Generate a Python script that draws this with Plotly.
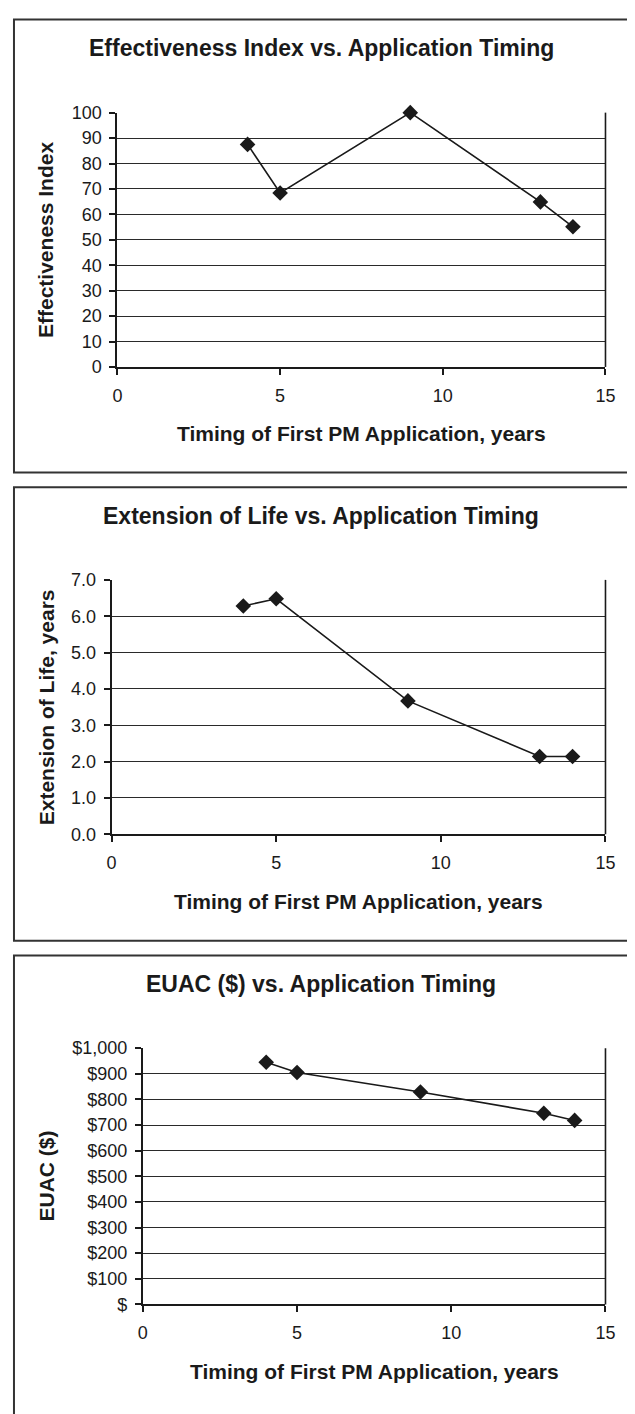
import plotly.graph_objects as go

# The page body has a default 8px margin, so the figure is drawn 8px in from the window edge.
OFF = 8
W, H = 635 - OFF, 1414 - OFF

timing = [4, 5, 9, 13, 14]
effectiveness = [87.5, 68.4, 100, 64.9, 55.1]
extension = [6.28, 6.48, 3.67, 2.14, 2.14]
euac = [945, 905, 829, 746, 718]

titles = ["Effectiveness Index vs. Application Timing",
          "Extension of Life vs. Application Timing",
          "EUAC ($) vs. Application Timing"]
ytitles = ["Effectiveness Index", "Extension of Life, years", "EUAC ($)"]
xtitle = "Timing of First PM Application, years"

x_ticks = [0, 5, 10, 15]
eff_ticks = list(range(0, 101, 10))
ext_ticks = [0, 1, 2, 3, 4, 5, 6, 7]
euac_ticks = list(range(0, 1001, 100))
euac_labels = ["$"] + ["${:,}".format(v) for v in euac_ticks[1:]]

FONT = "Liberation Sans, Arial, Helvetica, sans-serif"
INK = "#1a1a1a"

def px(x):
    return (x - OFF) / W

def py(y):
    return 1 - (y - OFF) / H

# panel layout in window pixels
panels = [
    dict(x0=115, x1=615, yt=104, yb=362, bt=9.5, bb=469, ty=38),
    dict(x0=109, x1=615, yt=578, yb=836, bt=484, bb=944, ty=513),
    dict(x0=141, x1=615, yt=1053, yb=1313, bt=959, bb=1440, ty=988),
]
XTITLE_GAP = 68

series = [effectiveness, extension, euac]

fig = go.Figure()
for i, (p, ys) in enumerate(zip(panels, series)):
    suf = "" if i == 0 else str(i + 1)
    fig.add_trace(go.Scatter(
        x=timing, y=ys, mode="lines+markers",
        xaxis="x" + suf, yaxis="y" + suf,
        line=dict(color=INK, width=1.6),
        marker=dict(symbol="diamond", size=12, color=INK),
        showlegend=False, cliponaxis=False,
    ))

axis_common = dict(
    showline=True, linecolor=INK, linewidth=2, mirror=False,
    ticks="outside", ticklen=6, tickwidth=1.5, tickcolor=INK,
    tickfont=dict(family=FONT, size=18, color=INK),
    zeroline=False,
)

yconf = [
    dict(range=[0, 100], tickvals=eff_ticks, ticktext=[str(v) for v in eff_ticks]),
    dict(range=[0, 7], tickvals=ext_ticks, ticktext=["{:.1f}".format(v) for v in ext_ticks]),
    dict(range=[0, 1000], tickvals=euac_ticks, ticktext=euac_labels),
]

layout = dict(
    width=W, height=H, margin=dict(l=0, r=0, t=0, b=0),
    paper_bgcolor="white", plot_bgcolor="white",
    shapes=[], annotations=[],
)

for i, p in enumerate(panels):
    suf = "" if i == 0 else str(i + 1)
    layout["xaxis" + suf] = dict(
        axis_common,
        domain=[px(p["x0"]), px(p["x1"])],
        range=[0, 15], tickvals=x_ticks, showgrid=False,
        anchor="y" + suf, ticklabelstandoff=5,
    )
    layout["yaxis" + suf] = dict(
        axis_common,
        domain=[py(p["yb"]), py(p["yt"])],
        showgrid=True, gridcolor="#2a2a2a", gridwidth=1.4,
        anchor="x" + suf, ticklabelstandoff=4,
        **yconf[i],
    )
    # plot area frame (right side)
    layout["shapes"].append(dict(
        type="line", xref="paper", yref="paper",
        x0=px(p["x1"]), x1=px(p["x1"]), y0=py(p["yb"]), y1=py(p["yt"]),
        line=dict(color=INK, width=1.6),
    ))
    # panel border box
    layout["shapes"].append(dict(
        type="rect", xref="paper", yref="paper",
        x0=px(9), x1=px(660), y0=py(p["bb"]), y1=py(p["bt"]),
        line=dict(color="#333333", width=2),
    ))
    layout["annotations"].append(dict(
        text="<b>" + titles[i] + "</b>", xref="paper", yref="paper",
        x=px(324), y=py(p["ty"]), xanchor="center", yanchor="middle",
        showarrow=False, font=dict(family=FONT, size=23, color=INK),
    ))
    layout["annotations"].append(dict(
        text="<b>" + xtitle + "</b>", xref="paper", yref="paper",
        x=px((p["x0"] + p["x1"]) / 2), y=py(p["yb"] + XTITLE_GAP),
        xanchor="center", yanchor="middle",
        showarrow=False, font=dict(family=FONT, size=21, color=INK),
    ))
    layout["annotations"].append(dict(
        text="<b>" + ytitles[i] + "</b>", xref="paper", yref="paper",
        x=px(42), y=py((p["yt"] + p["yb"]) / 2), xanchor="center", yanchor="middle",
        textangle=-90,
        showarrow=False, font=dict(family=FONT, size=21, color=INK),
    ))

fig.update_layout(**layout)
fig.write_html("out.html")
